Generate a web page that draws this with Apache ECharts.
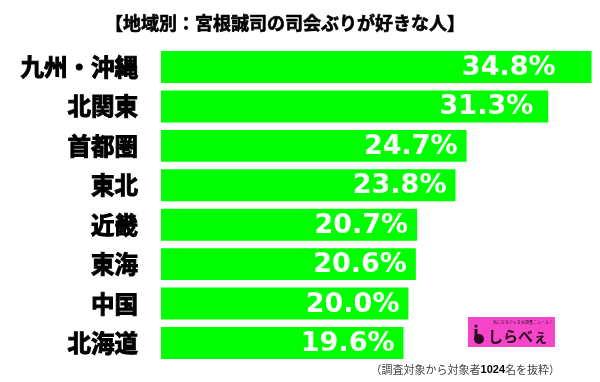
<!DOCTYPE html>
<html>
<head>
<meta charset="utf-8">
<script src="https://cdn.jsdelivr.net/npm/echarts@6/dist/echarts.min.js"></script>
<style>html,body{margin:0;padding:0;background:#fff;}#c{width:600px;height:382px;}</style>
</head>
<body>
<div id="c"></div>
<script>
const titleText = '【地域別：宮根誠司の司会ぶりが好きな人】';
const categories = ['九州・沖縄', '北関東', '首都圏', '東北', '近畿', '東海', '中国', '北海道'];
const values = [34.8, 31.3, 24.7, 23.8, 20.7, 20.6, 20.0, 19.6];
const noteBefore = '（調査対象から対象者';
const noteNumber = '1024';
const noteAfter = '名を抜粋）';
const logoText = 'しらべぇ';
const logoTagline = '気になるアレを大調査ニュース！';

// per-bar label nudges (style only)
const labelNudge = [-27, -6, 0, 0, 0, 0, 0, 0];

const chart = echarts.init(document.getElementById('c'), null, {renderer: 'canvas'});
const jp = '"Noto Sans CJK JP", "Noto Sans", sans-serif';

chart.setOption({
  animation: false,
  backgroundColor: '#ffffff',
  grid: {left: 161, right: 6, top: 47.3, bottom: 19.3, containLabel: false},
  xAxis: {
    type: 'value', min: 0, max: 35, show: false
  },
  yAxis: {
    type: 'category', data: categories, inverse: true,
    axisLine: {show: false}, axisTick: {show: false}, splitLine: {show: false},
    axisLabel: {
      margin: 23, color: '#000', fontFamily: jp, fontWeight: 'bold', fontSize: 23.5,
      textBorderColor: '#000', textBorderWidth: 1
    }
  },
  series: [{
    type: 'bar',
    data: values.map((v, i) => ({
      value: v,
      label: {offset: [labelNudge[i], 1]}
    })),
    barCategoryGap: '19%',
    itemStyle: {color: '#00ff00'},
    label: {
      show: true, position: 'insideRight', distance: 9,
      color: '#ffffff', fontFamily: '"DejaVu Sans", sans-serif', fontWeight: 'bold', fontSize: 27,
      formatter: p => p.value.toFixed(1) + '%'
    }
  }],
  graphic: [
    {
      type: 'text', x: 285, y: 23,
      style: {text: titleText, textAlign: 'center', textVerticalAlign: 'middle',
        font: 'bold 18px ' + jp, fill: '#000', stroke: '#000', lineWidth: 0.6}
    },
    {
      type: 'text', x: 560, y: 370,
      style: {
        text: noteBefore + '{b|' + noteNumber + '}' + noteAfter,
        textAlign: 'right', textVerticalAlign: 'middle',
        font: '11px ' + jp, fill: '#444',
        rich: {b: {font: 'bold 11px "Liberation Sans", Arial, sans-serif', fill: '#000'}}
      }
    },
    {
      type: 'rect', shape: {x: 468, y: 317, width: 87, height: 30},
      style: {fill: '#f545c8'}
    },
    {
      type: 'text', x: 523, y: 322,
      style: {text: logoTagline, textAlign: 'center', textVerticalAlign: 'middle',
        font: '4px ' + jp, fill: '#3a1030'}
    },
    {
      type: 'circle', shape: {cx: 479, cy: 339, r: 5},
      style: {fill: '#2a0a20'}
    },
    {
      type: 'circle', shape: {cx: 476, cy: 326, r: 1.6},
      style: {fill: '#2a0a20'}
    },
    {
      type: 'rect', shape: {x: 474.5, y: 329, width: 3, height: 9},
      style: {fill: '#2a0a20'}
    },
    {
      type: 'text', x: 518, y: 336,
      style: {text: logoText, textAlign: 'center', textVerticalAlign: 'middle',
        font: 'bold 15px ' + jp, fill: '#2a0a20'}
    }
  ]
});
</script>
</body>
</html>
